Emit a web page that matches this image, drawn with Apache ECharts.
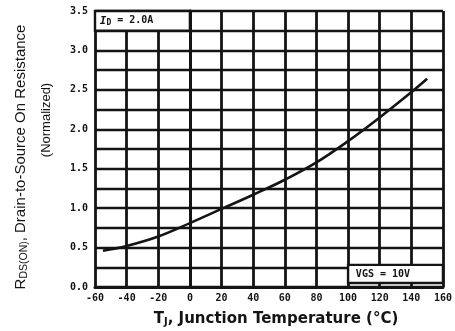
<!DOCTYPE html>
<html>
<head>
<meta charset="utf-8">
<script src="https://cdn.jsdelivr.net/npm/echarts@6/dist/echarts.min.js"></script>
<style>
html,body{margin:0;padding:0;background:#fff;}
#c{width:455px;height:331px;}
</style>
</head>
<body>
<div id="c"></div>
<script>
// Junction temperature (°C)
const temps = [-55, -40, -20, 0, 20, 40, 60, 80, 100, 120, 140, 150];
// Normalized RDS(on)
const rdsOn = [0.46, 0.52, 0.64, 0.81, 0.99, 1.17, 1.36, 1.58, 1.85, 2.15, 2.47, 2.64];
// Axis ranges
const xRange = [-60, 160, 20];
const yRange = [0, 3.5, 0.25];
// Annotation texts
const condBottom = 'VGS = 10V';

const chart = echarts.init(document.getElementById('c'), null, {renderer: 'canvas'});
const ink = '#141414';
const tickFont = {fontFamily: 'DejaVu Sans Mono', fontSize: 10, fontWeight: 'bold', color: ink};

chart.setOption({
  backgroundColor: '#ffffff',
  animation: false,
  grid: {left: 95, right: 11, top: 11, bottom: 44, show: false},
  xAxis: {
    type: 'value', min: xRange[0], max: xRange[1], interval: xRange[2],
    axisLine: {show: true, lineStyle: {color: ink, width: 3}},
    axisTick: {show: false},
    axisLabel: Object.assign({margin: 6}, tickFont),
    splitLine: {show: true, lineStyle: {color: ink, width: 2.8}}
  },
  yAxis: {
    type: 'value', min: yRange[0], max: yRange[1], interval: yRange[2],
    axisLine: {show: true, lineStyle: {color: ink, width: 3}},
    axisTick: {show: true, length: 4, lineStyle: {color: ink, width: 2}},
    axisLabel: Object.assign({
      margin: 7,
      formatter: v => (Math.abs(v * 2 - Math.round(v * 2)) < 1e-6 ? v.toFixed(1) : '')
    }, tickFont),
    splitLine: {show: true, lineStyle: {color: ink, width: 2.4}}
  },
  series: [{
    type: 'line',
    data: temps.map((t, i) => [t, rdsOn[i]]),
    smooth: 0.4,
    showSymbol: false,
    lineStyle: {color: ink, width: 2.6},
    markArea: {
      silent: true,
      itemStyle: {color: '#ffffff', borderColor: ink, borderWidth: 2.4},
      label: {show: true, position: 'insideLeft', distance: 6, color: ink,
        fontFamily: 'DejaVu Sans Mono', fontSize: 10, fontWeight: 'bold'},
      data: [
        [{xAxis: -60, yAxis: 3.25, label: {
            formatter: '{i|I}{s|D}{t| = 2.0A}',
            rich: {
              i: {fontFamily: 'DejaVu Sans Mono', fontSize: 11, fontStyle: 'italic', fontWeight: 'bold', color: ink},
              s: {fontFamily: 'DejaVu Sans Mono', fontSize: 8, fontWeight: 'bold', color: ink, verticalAlign: 'bottom', padding: [4, 0, 0, 0]},
              t: {fontFamily: 'DejaVu Sans Mono', fontSize: 10, fontWeight: 'bold', color: ink}
            }}},
         {xAxis: 0, yAxis: 3.5}],
        [{xAxis: 100, yAxis: 0.28, label: {formatter: condBottom, distance: 9}}, {xAxis: 160, yAxis: 0.05}]
      ]
    }
  }],
  graphic: [
    {
      type: 'text', x: 21, y: 157, rotation: Math.PI / 2,
      style: {
        text: '{a|R}{s|DS(ON)}{a|, Drain-to-Source On Resistance}',
        align: 'center', verticalAlign: 'middle',
        rich: {
          a: {fontFamily: 'Liberation Sans', fontSize: 15, fill: ink, color: ink},
          s: {fontFamily: 'Liberation Sans', fontSize: 10.5, fill: ink, color: ink, verticalAlign: 'bottom', padding: [6, 0, 0, 0]}
        }
      }
    },
    {
      type: 'text', x: 46, y: 120, rotation: Math.PI / 2,
      style: {
        text: '(Normalized)', align: 'center', verticalAlign: 'middle',
        font: '13px "Liberation Sans"', fill: ink
      }
    },
    {
      type: 'text', x: 276, y: 319,
      style: {
        text: '{a|T}{s|J}{a|, Junction Temperature (°C)}',
        align: 'center', verticalAlign: 'middle',
        rich: {
          a: {fontFamily: 'DejaVu Sans', fontSize: 15, fontWeight: 'bold', fill: ink, color: ink},
          s: {fontFamily: 'DejaVu Sans', fontSize: 10, fontWeight: 'bold', fill: ink, color: ink, verticalAlign: 'bottom', padding: [6, 0, 0, 0]}
        }
      }
    }
  ]
});
</script>
</body>
</html>
